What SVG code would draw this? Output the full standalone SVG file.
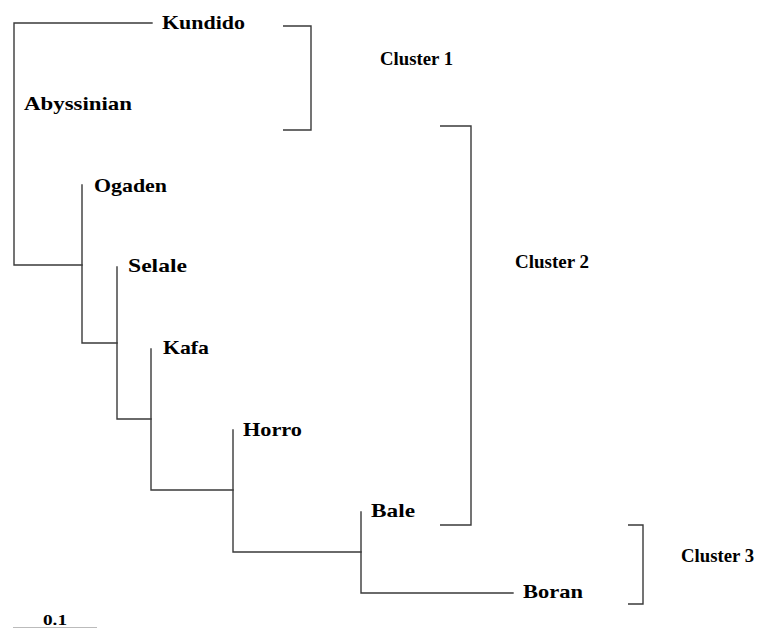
<svg xmlns="http://www.w3.org/2000/svg" width="757" height="628" viewBox="0 0 757 628">
<style>
.ln{fill:none;stroke:#3a3a3a;stroke-width:1.4;stroke-linecap:square}
.lb{font-family:"Liberation Serif","Times New Roman",serif;font-weight:bold;font-size:19px;fill:#000}
.br{fill:none;stroke:#3a3a3a;stroke-width:1.4}
</style>
<rect width="757" height="628" fill="#fff"/>
<g id="connectors">
<path class="ln" d="M152,23 H14 V265 H82"/>
<path class="ln" d="M82,185 V343 H117"/>
<path class="ln" d="M117,267 V419 H151"/>
<path class="ln" d="M151,349 V490 H233"/>
<path class="ln" d="M233,430 V552 H361"/>
<path class="ln" d="M361,512 V593 H513"/>
</g>
<g id="Kundido"><text class="lb" x="162" y="29" textLength="83" lengthAdjust="spacingAndGlyphs">Kundido</text></g>
<g id="Abyssinian"><text class="lb" x="24" y="110" textLength="108" lengthAdjust="spacingAndGlyphs">Abyssinian</text></g>
<g id="Ogaden"><text class="lb" x="94" y="192" textLength="73" lengthAdjust="spacingAndGlyphs">Ogaden</text></g>
<g id="Selale"><text class="lb" x="128" y="272" textLength="59" lengthAdjust="spacingAndGlyphs">Selale</text></g>
<g id="Kafa"><text class="lb" x="163" y="354" textLength="46" lengthAdjust="spacingAndGlyphs">Kafa</text></g>
<g id="Horro"><text class="lb" x="243" y="436" textLength="59" lengthAdjust="spacingAndGlyphs">Horro</text></g>
<g id="Bale"><text class="lb" x="371" y="517" textLength="44" lengthAdjust="spacingAndGlyphs">Bale</text></g>
<g id="Boran"><text class="lb" x="523" y="598" textLength="60" lengthAdjust="spacingAndGlyphs">Boran</text></g>
<g id="cluster1">
<path class="br" d="M283,26 H311 V130 H283"/>
<text class="lb" x="380" y="65" textLength="73" lengthAdjust="spacingAndGlyphs">Cluster 1</text>
</g>
<g id="cluster2">
<path class="br" d="M440,126 H471 V525 H440"/>
<text class="lb" x="515" y="268" textLength="74" lengthAdjust="spacingAndGlyphs">Cluster 2</text>
</g>
<g id="cluster3">
<path class="br" d="M628,525 H643 V604 H628"/>
<text class="lb" x="681" y="562" textLength="73" lengthAdjust="spacingAndGlyphs">Cluster 3</text>
</g>
<g id="scale">
<text class="lb" x="43" y="625" textLength="24" lengthAdjust="spacingAndGlyphs" style="font-size:14px">0.1</text>
<line x1="13" y1="627.5" x2="97" y2="627.5" stroke="#bbb" stroke-width="1"/>
</g>
</svg>
